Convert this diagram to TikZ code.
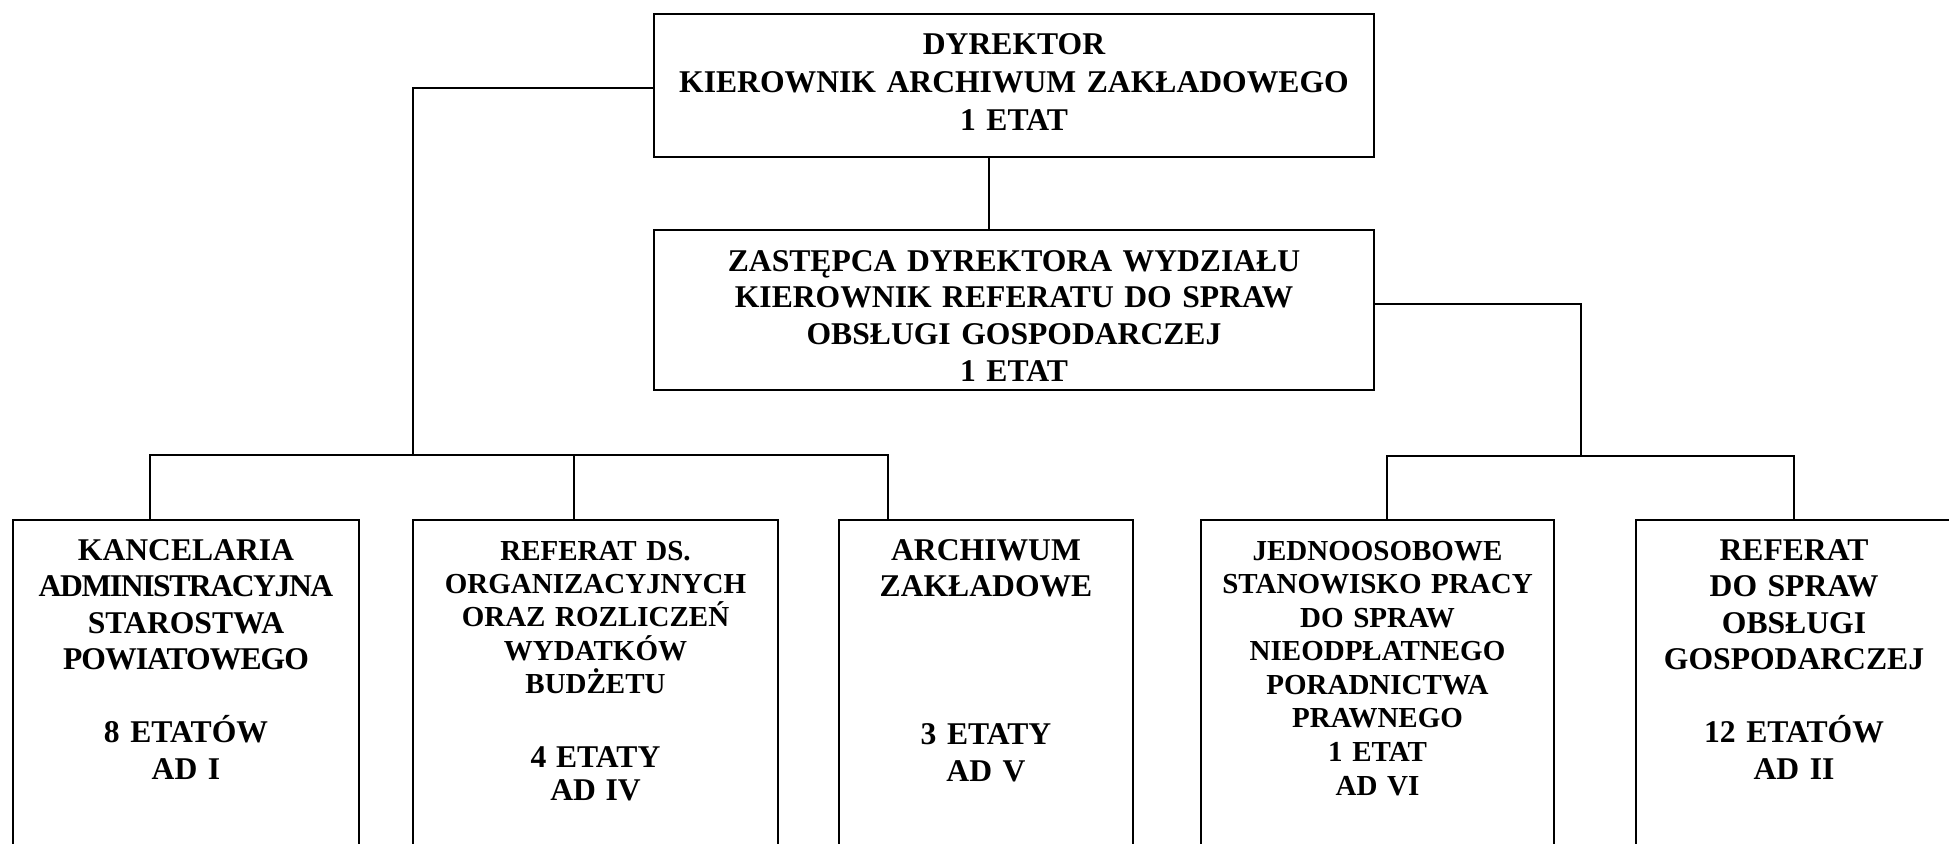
\documentclass[tikz,border=0pt]{standalone}
\usepackage{fontspec}
\setmainfont{Liberation Serif}
\newcommand{\zwez}[2]{{\addfontfeature{LetterSpace=#1}#2}}

\begin{document}
\begin{tikzpicture}[
                    box/.style={draw,rectangle,line width=1.2pt,inner sep=0pt,align=center,anchor=north,
                                font=\fontsize{18}{20.9}\selectfont\bfseries},
                    unit/.style={box,text height=0.8cm,text depth=7cm,
                                 font=\fontsize{18}{20.8}\selectfont\bfseries},
                    link/.style={line width=1pt}]
                    \useasboundingbox (0,0) rectangle (38.98,-16.86);
                    % kierownictwo
                    \node[box,text width=14.4cm,text height=0.806cm,text depth=2.054cm,font=\fontsize{18}{21.6}\selectfont\bfseries](D) at (20.28,-0.26){DYREKTOR\\KIEROWNIK ARCHIWUM ZAKŁADOWEGO\\1 ETAT};
                    \node[box,text width=14.4cm,text height=0.82cm,text depth=2.38cm](Z) at (20.28,-4.58){ZASTĘPCA DYREKTORA WYDZIAŁU\\KIEROWNIK REFERATU DO SPRAW\\OBSŁUGI GOSPODARCZEJ\\1 ETAT};
                    % komorki
                    \node[unit,text width=6.92cm](KA) at (3.72,-10.38){KANCELARIA\\\zwez{-4.5}{ADMINISTRACYJNA}\\STAROSTWA\\\zwez{-3}{POWIATOWEGO}\\[20.7pt]8 ETATÓW\\AD I};
                    \node[unit,text width=7.3cm,font=\fontsize{16.5}{19}\selectfont\bfseries](RO) at (11.91,-10.38){REFERAT DS.\\ORGANIZACYJNYCH\\ORAZ ROZLICZEŃ\\WYDATKÓW\\BUDŻETU\par\vspace{21.1pt}\fontsize{18}{20.9}\selectfont 4 ETATY\\AD IV};
                    \node[unit,text width=5.88cm](AZ) at (19.72,-10.38){ARCHIWUM\\ZAKŁADOWE\\[63.4pt]3 ETATY\\AD V};
                    \node[unit,text width=7.06cm,font=\fontsize{16.5}{19.1}\selectfont\bfseries](JS) at (27.55,-10.38){JEDNOOSOBOWE\\STANOWISKO PRACY\\DO SPRAW\\NIEODPŁATNEGO\\PORADNICTWA\\PRAWNEGO\\1 ETAT\\AD VI};
                    \node[unit,text width=6.32cm](RG) at (35.88,-10.38){REFERAT\\DO SPRAW\\OBSŁUGI\\GOSPODARCZEJ\\[20.7pt]12 ETATÓW\\AD II};
                    % polaczenia
                    \coordinate (L) at (8.26,-9.1);
                    \coordinate (R) at (31.62,-9.12);
                    \draw[link]([xshift=-0.5cm]D.south)--([xshift=-0.5cm]Z.north);
                    \draw[link]([yshift=-0.05cm]D.west)-|(L);
                    \draw[link]([xshift=-0.72cm]KA.north)|-(L)-|([xshift=-1.96cm]AZ.north);
                    \draw[link]([xshift=-0.43cm]RO.north)--([xshift=-0.43cm]RO.north|-L);
                    \draw[link]([yshift=0.12cm]Z.east)-|(R);
                    \draw[link]([xshift=0.19cm]JS.north)|-(R)-|(RG.north);
                \end{tikzpicture}
\end{document}
